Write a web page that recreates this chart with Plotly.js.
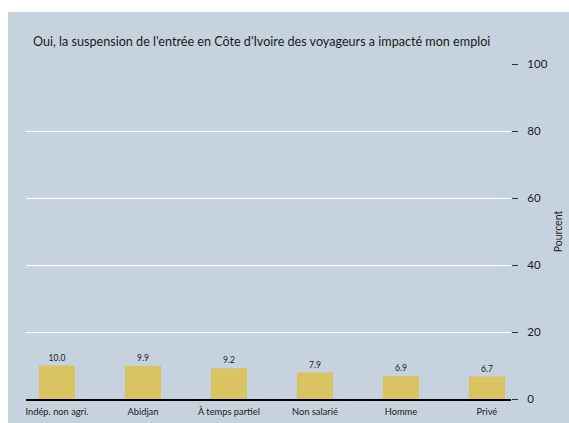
<!DOCTYPE html>
<html>
<head>
<meta charset="utf-8">
<script src="https://cdn.plot.ly/plotly-3.0.1.min.js"></script>
<style>
html,body{margin:0;padding:0;background:#ffffff;}
#chart{position:absolute;left:8px;top:12px;width:561px;height:411px;}
</style>
</head>
<body>
<div id="chart"></div>
<script>
var categories = ["Indép. non agri.", "Abidjan", "À temps partiel", "Non salarié", "Homme", "Privé"];
var values = [10.0, 9.9, 9.2, 7.9, 6.9, 6.7];
var valueLabels = ["10.0", "9.9", "9.2", "7.9", "6.9", "6.7"];
var yTicks = [0, 20, 40, 60, 80, 100];
var gridTicks = [20, 40, 60, 80];
var titleText = "Oui, la suspension de l'entrée en Côte d'Ivoire des voyageurs a impacté mon emploi";

var font = "Lato, 'Open Sans', sans-serif";

var trace = {
  type: "bar",
  x: categories.map(function(c, i){ return i; }),
  y: values,
  text: valueLabels,
  textposition: "outside",
  cliponaxis: false,
  textfont: {family: font, size: 8.5, color: "#1a1a1a"},
  marker: {color: "#d9c461", line: {width: 0}},
  width: 0.42,
  hoverinfo: "x+y",
  yaxis: "y"
};
var gridTrace = {
  type: "scatter", x: [0], y: [0], mode: "markers",
  marker: {opacity: 0}, showlegend: false, hoverinfo: "skip", yaxis: "y2"
};

var layout = {
  width: 561, height: 411,
  paper_bgcolor: "#c6d3df",
  plot_bgcolor: "#c6d3df",
  margin: {l: 18, r: 58, t: 52, b: 24},
  showlegend: false,
  title: {text: titleText, x: 25/561, xanchor: "left", y: 1 - 30/411, yanchor: "middle",
          font: {family: font, size: 12.6, color: "#1a1a1a"}},
  xaxis: {
    range: [-0.36, 5.28],
    tickvals: categories.map(function(c, i){ return i; }),
    ticktext: categories,
    showgrid: false, zeroline: false,
    showline: true, linecolor: "#000000", linewidth: 1.5,
    ticks: "", ticklabelstandoff: 3,
    tickfont: {family: font, size: 9.3, color: "#1a1a1a"},
    fixedrange: true
  },
  yaxis: {
    side: "right", range: [0, 100],
    tickvals: yTicks,
    showgrid: false, zeroline: false, showline: false,
    ticks: "outside", ticklen: 6, tickwidth: 1, tickcolor: "#333333",
    ticklabelstandoff: 7,
    tickfont: {family: font, size: 11.5, color: "#1a1a1a"},
    title: {text: "Pourcent", font: {family: font, size: 10.5, color: "#1a1a1a"}, standoff: 8},
    fixedrange: true
  },
  yaxis2: {
    overlaying: "y", side: "right", range: [0, 100],
    tickvals: gridTicks, showticklabels: false, ticks: "",
    showgrid: true, gridcolor: "#ffffff", gridwidth: 1,
    zeroline: false, showline: false, fixedrange: true
  }
};

Plotly.newPlot("chart", [gridTrace, trace], layout, {displayModeBar: false, staticPlot: true});
</script>
</body>
</html>
